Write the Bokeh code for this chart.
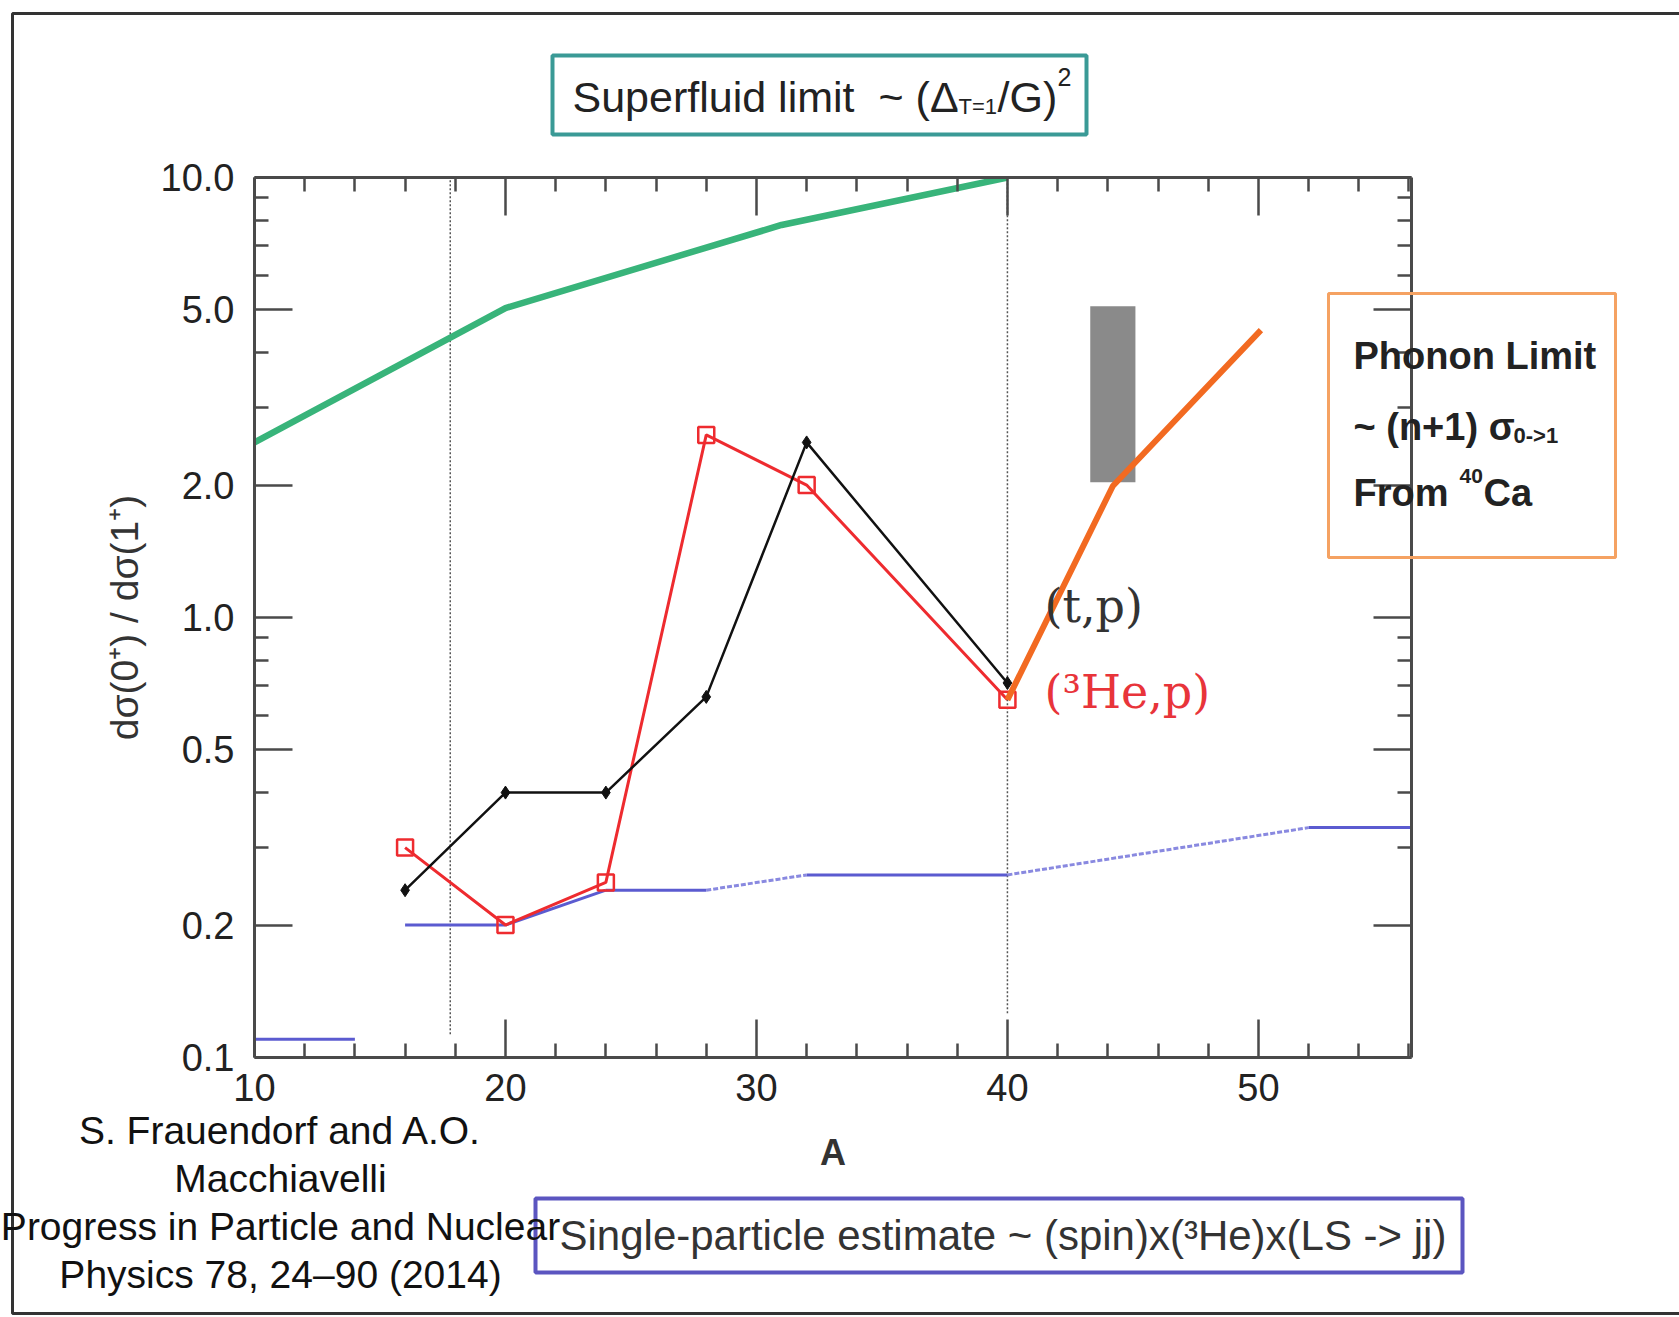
from bokeh.plotting import figure
from bokeh.layouts import column
from bokeh.models import Range1d, FixedTicker, LinearAxis, LogAxis, Label, BoxAnnotation
from bokeh.embed import file_html
from bokeh.resources import INLINE

# ---------------- data ----------------
superfluid_A = [10, 20, 31, 40]
superfluid_ratio = [2.5, 5.05, 7.8, 10.0]

tp_A = [16, 20, 24, 28, 32, 40]
tp_ratio = [0.24, 0.40, 0.40, 0.66, 2.5, 0.71]

he3p_A = [16, 20, 24, 28, 32, 40]
he3p_ratio = [0.30, 0.20, 0.25, 2.6, 2.0, 0.65]

sp_A = [16, 20, 24, 28, 32, 40, 52, 56.1]
sp_ratio = [0.20, 0.20, 0.24, 0.24, 0.26, 0.26, 0.333, 0.333]
sp_dashed = [False, False, False, True, False, True, False]

sp_low_A = [10, 14]
sp_low_ratio = [0.11, 0.11]

phonon_A = [40, 44.2, 50.1]
phonon_ratio = [0.65, 1.99, 4.5]

band_A = [43.3, 45.1]
band_ratio = [2.03, 5.1]

vline_A = [17.8, 40]
vline_bottom = [0.113, 0.126]
vline_top = [10, 10]

x_major = [10, 20, 30, 40, 50]
x_minor = [12, 14, 16, 18, 22, 24, 26, 28, 32, 34, 36, 38, 42, 44, 46, 48, 52, 54, 56]
y_major = [0.1, 0.2, 0.5, 1.0, 2.0, 5.0, 10.0]
y_major_labels = ["0.1", "0.2", "0.5", "1.0", "2.0", "5.0", "10.0"]
y_minor = [0.3, 0.4, 0.6, 0.7, 0.8, 0.9, 3, 4, 6, 7, 8, 9]

citation_lines = ["S. Frauendorf and A.O.", "Macchiavelli",
                  "Progress in Particle and Nuclear", "Physics 78, 24–90 (2014)"]

# ---------------- layout ----------------
W, H = 1679, 1317
L, R, T, B = 254, 1411, 177, 1057
XMIN, XMAX = 10, 56.1
YMIN, YMAX = 0.1, 10.0

p = figure(width=W, height=H, x_range=Range1d(XMIN, XMAX), y_range=Range1d(YMIN, YMAX),
           y_axis_type="log", output_backend="svg", toolbar_location=None,
           min_border_left=L, min_border_right=W - R, min_border_top=T, min_border_bottom=H - B,
           x_axis_label="A", y_axis_label="dσ(0⁺) / dσ(1⁺)")
p.frame_align = False
p.grid.visible = False
p.outline_line_color = None
p.background_fill_color = "white"
p.border_fill_color = "white"

AX = "#4a4a4a"
FONT = "Liberation Sans"


def style_axis(ax, labels=True):
    ax.axis_line_color = AX
    ax.axis_line_width = 3
    ax.major_tick_line_color = AX
    ax.major_tick_line_width = 2.5
    ax.minor_tick_line_color = AX
    ax.minor_tick_line_width = 2.5
    ax.major_tick_in = 38
    ax.major_tick_out = 0
    ax.minor_tick_in = 14
    ax.minor_tick_out = 0
    ax.major_label_text_font = FONT
    ax.major_label_text_font_size = "38px"
    ax.major_label_text_color = "#222222" if labels else None
    ax.axis_label_text_font = FONT
    ax.axis_label_text_font_style = "normal"
    ax.axis_label_text_color = "#333333"


y_over = {v: s for v, s in zip(y_major, y_major_labels)}

xa = p.xaxis[0]
xa.ticker = FixedTicker(ticks=x_major, minor_ticks=x_minor)
style_axis(xa)
xa.major_label_standoff = 16
xa.axis_label_standoff = 28
xa.axis_label_text_font_size = "36px"
xa.axis_label_text_font_style = "bold"

ya = p.yaxis[0]
ya.ticker = FixedTicker(ticks=y_major, minor_ticks=y_minor)
style_axis(ya)
ya.major_label_overrides = y_over
ya.major_label_standoff = 20
ya.axis_label_standoff = 12
ya.axis_label_text_font_size = "39px"

top_ax = LinearAxis(ticker=FixedTicker(ticks=x_major, minor_ticks=x_minor))
style_axis(top_ax, labels=False)
p.add_layout(top_ax, "above")
right_ax = LogAxis(ticker=FixedTicker(ticks=y_major, minor_ticks=y_minor))
style_axis(right_ax, labels=False)
p.add_layout(right_ax, "right")

# ---------------- marks ----------------
p.segment(x0=vline_A, y0=vline_bottom, x1=vline_A, y1=vline_top,
          line_color="#555555", line_width=1.5, line_dash="2 2")

p.line(superfluid_A, superfluid_ratio, line_color="#38b47a", line_width=6.5)

p.quad(left=[band_A[0]], right=[band_A[1]], bottom=[band_ratio[0]], top=[band_ratio[1]],
       fill_color="#8a8a8a", line_color=None)

p.line(sp_low_A, sp_low_ratio, line_color="#5b5bd0", line_width=3)
solid_xs, solid_ys, dash_xs, dash_ys = [], [], [], []
for i, d in enumerate(sp_dashed):
    seg_x = [sp_A[i], sp_A[i + 1]]
    seg_y = [sp_ratio[i], sp_ratio[i + 1]]
    if d:
        dash_xs.append(seg_x); dash_ys.append(seg_y)
    else:
        solid_xs.append(seg_x); solid_ys.append(seg_y)
p.multi_line(solid_xs, solid_ys, line_color="#5b5bd0", line_width=3)
p.multi_line(dash_xs, dash_ys, line_color="#6b6bd8", line_width=3, line_dash="5 2", line_alpha=0.8)

p.line(he3p_A, he3p_ratio, line_color="#ee2b2f", line_width=3)
p.scatter(he3p_A, he3p_ratio, marker="square", size=16, fill_color=None,
          line_color="#ee2b2f", line_width=2.5)

p.line(tp_A, tp_ratio, line_color="#111111", line_width=2.5)
p.scatter(tp_A, tp_ratio, marker="diamond", size=13, fill_color="#111111", line_color="#111111")

p.line(phonon_A, phonon_ratio, line_color="#f26a21", line_width=6)


def dx(px):
    return XMIN + (px - L) * (XMAX - XMIN) / (R - L)


def dy(py):
    return 10 ** (1 - 2.0 * (py - T) / (B - T))


# reaction labels (inside the frame)
p.add_layout(Label(x=dx(1044), y=dy(605), text="(t,p)", text_font="DejaVu Serif",
                   text_font_size="46px", text_color="#333333", text_baseline="middle"))
p.add_layout(Label(x=dx(1044), y=dy(691), text="(³He,p)", text_font="DejaVu Serif",
                   text_font_size="46px", text_color="#e8343a", text_baseline="middle"))

# ---------------- overlay for the texts around the frame ----------------
ov = figure(width=W, height=H, x_range=Range1d(0, W), y_range=Range1d(H, 0),
            output_backend="svg", toolbar_location=None, min_border=0,
            x_axis_location=None, y_axis_location=None)
ov.frame_align = False
ov.grid.visible = False
ov.outline_line_color = None
ov.background_fill_color = None
ov.border_fill_color = None
ov.styles = {"position": "absolute", "top": "0px", "left": "0px"}

BASE_FIX = -15  # alphabetic baseline correction


def box(l, r, t, b, color, width):
    ov.add_layout(BoxAnnotation(left=l, right=r, top=t, bottom=b, fill_color=None,
                                line_color=color, line_width=width, line_alpha=1.0))


def lab(px, py, text, size, color="#222222", font=FONT, style="normal",
        baseline="alphabetic", align="left"):
    if baseline == "alphabetic":
        py = py + BASE_FIX
    ov.add_layout(Label(x=px, y=py, text=text, text_font=font, text_font_size=f"{size}px",
                        text_color=color, text_font_style=style, text_baseline=baseline,
                        text_align=align))


# slide border
box(12, 1700, 13, 1313, "#333333", 3)

# superfluid box
box(552, 1086, 55, 134, "#3a9a96", 4)
lab(572, 111, "Superfluid limit", 43)
lab(878, 111, "~ (Δ", 43)
lab(958, 121, "T=1", 22)
lab(997, 111, "/G)", 43)
lab(1057, 91, "2", 25)

# phonon box
box(1328, 1615, 293, 557, "#f5a262", 3)
lab(1353, 370, "Phonon Limit", 38, style="bold")
lab(1353, 441, "~ (n+1) σ", 38, style="bold")
lab(1513, 450, "0->1", 22, style="bold")
lab(1353, 507, "From", 38, style="bold")
lab(1459, 490, "40", 21, style="bold")
lab(1483, 507, "Ca", 38, style="bold")

# single particle box
box(535, 1462, 1198, 1272, "#5b55c0", 4)
lab(559, 1235, "Single-particle estimate ~ (spin)x(³He)x(LS -> jj)", 42, color="#333333",
    baseline="middle")

# citation
for i, t in enumerate(citation_lines):
    lab(280, 1130 + 48 * i, t, 39, color="#111111", baseline="middle", align="center")

layout = column(p, ov, styles={"position": "relative"})
open("out.html", "w").write(file_html(layout, INLINE))
